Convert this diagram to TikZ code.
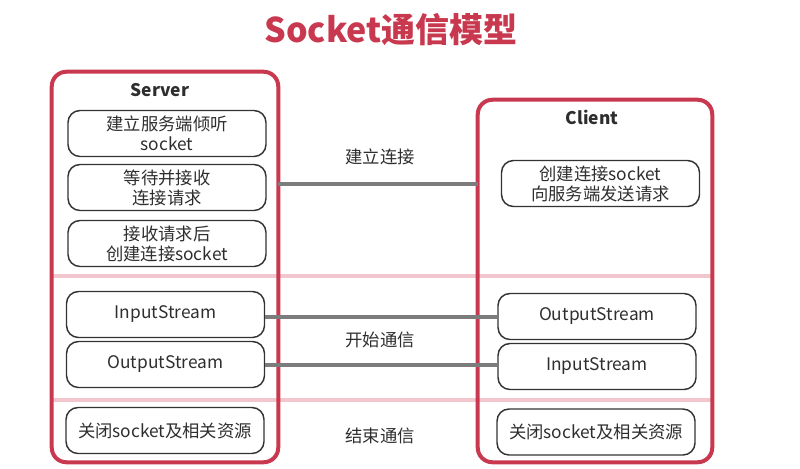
\documentclass[tikz,border=0pt]{standalone}
\usepackage{fontspec}
\setmainfont{Noto Sans CJK SC}
\usetikzlibrary{positioning}
\definecolor{frameRed}{HTML}{C8384E}
\definecolor{sepPink}{HTML}{F2C6CD}
\definecolor{linkGray}{HTML}{7C7C7C}
\definecolor{textGray}{HTML}{2E2E2E}

\begin{document}
\begin{tikzpicture}[
    x=0.75pt,
    y=-0.75pt,
    frame/.style={
        draw=frameRed,
        line width=3pt,
        rounded corners=11pt
    },
    stepbox/.style={
        draw=black!80,
        line width=1.1pt,
        rounded corners=9pt,
        minimum width=148.5pt,
        minimum height=34.5pt,
        align=center,
        inner sep=1pt,
        font=\fontsize{13}{15}\selectfont,
        text=textGray
    },
    phase/.style={
        font=\fontsize{13}{15}\selectfont,
        text=textGray
    },
    heading/.style={
        font=\fontsize{13}{15}\selectfont\bfseries,
        text=textGray
    },
    sep/.style={
        draw=sepPink,
        line width=3pt
    },
    link/.style={
        draw=linkGray,
        line width=3pt
    }
]

\useasboundingbox (0,0) rectangle (800,468);

\node[font=\fontsize{25.5}{28}\selectfont\bfseries, text=frameRed] (title) at (391,30) {Socket通信模型};

\node[minimum width=169.5pt, minimum height=292.5pt, inner sep=0pt] (server) at (165,267) {};
\node[minimum width=175.5pt, minimum height=271.5pt, inner sep=0pt] (client) at (595,281) {};

\coordinate (sepA) at (0,276);
\coordinate (sepB) at (0,400);
\draw[sep] (server.west |- sepA) -- (client.east |- sepA);
\draw[sep] (server.west |- sepB) -- (client.east |- sepB);

\draw[frame] (server.south west) rectangle (server.north east);
\draw[frame] (client.south west) rectangle (client.north east);

\node[heading] (serverTitle) at (160,90) {Server};
\node[heading] (clientTitle) at (592,117) {Client};

\node[stepbox] (listen) at (167,133.5) {建立服务端倾听\\socket};
\node[stepbox] (wait) at (167,187.5) {等待并接收\\连接请求};
\node[stepbox] (accept) at (167,243.5) {接收请求后\\创建连接socket};
\node[stepbox] (sin) at (165.5,314.5) {InputStream};
\node[stepbox] (sout) at (165.5,364.5) {OutputStream};
\node[stepbox] (sclose) at (165,430.5) {关闭socket及相关资源};

\node[stepbox] (request) at (600.5,183.5) {创建连接socket\\向服务端发送请求};
\node[stepbox] (cout) at (597,316.5) {OutputStream};
\node[stepbox] (cin) at (597,366.5) {InputStream};
\node[stepbox] (cclose) at (596,432) {关闭socket及相关资源};

\draw[link] (server.east |- request) -- (client.west |- request);
\draw[link] (sin.east |- cout) -- (cout.west);
\draw[link] (sout.east) -- (sout.east -| cin.west);

\node[phase] (connect) at (380,157) {建立连接};
\node[phase] (talk) at (380,340) {开始通信};
\node[phase] (finish) at (380,436) {结束通信};

\end{tikzpicture}
\end{document}
